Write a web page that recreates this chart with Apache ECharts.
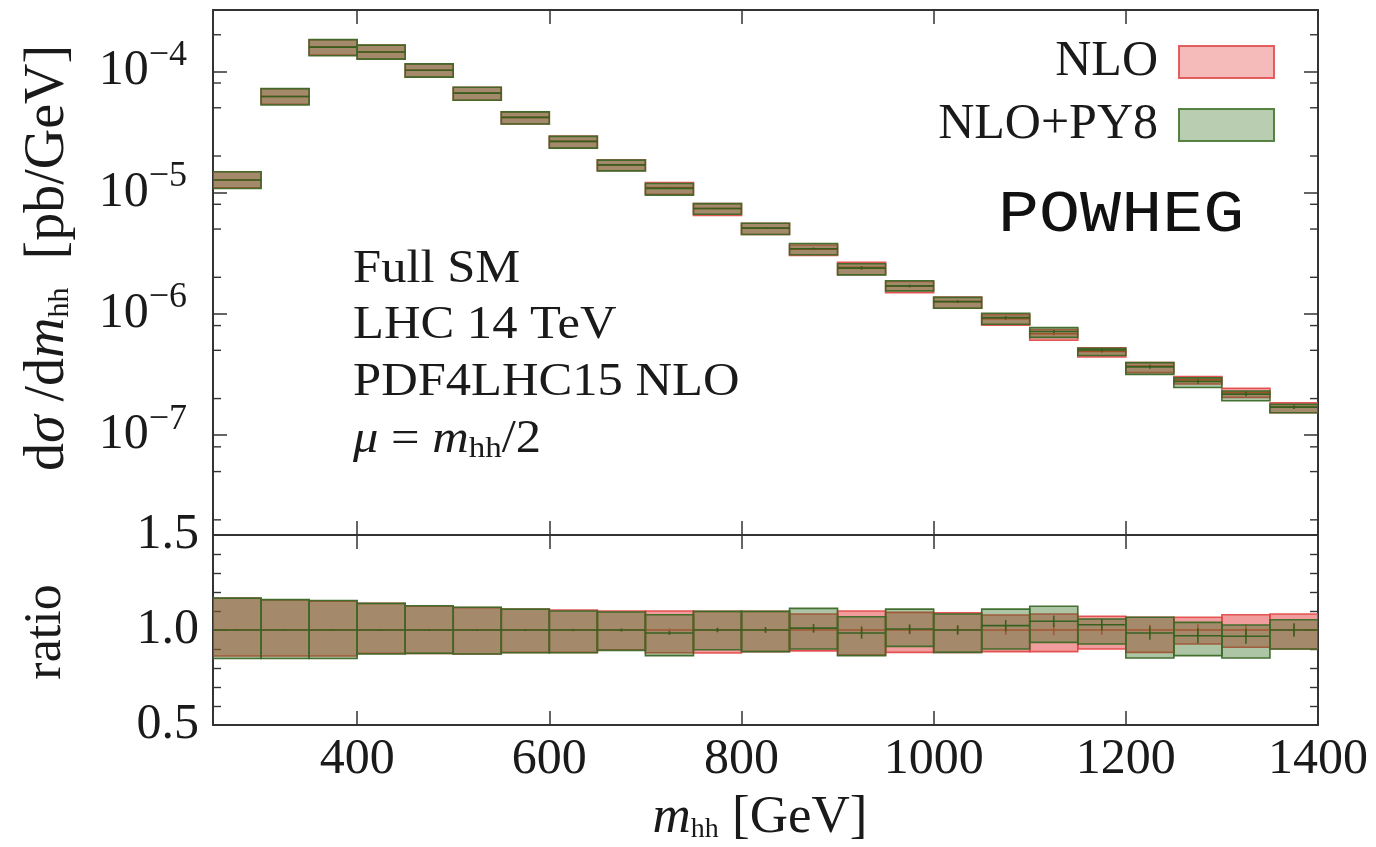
<!DOCTYPE html>
<html>
<head>
<meta charset="utf-8">
<script src="https://cdn.jsdelivr.net/npm/echarts@6/dist/echarts.min.js"></script>
<style>
html,body{margin:0;padding:0;background:#ffffff;}
#chart{width:1376px;height:847px;}
</style>
</head>
<body>
<div id="chart"></div>
<script>
// ---------------- data ----------------
const binEdges = [250,300,350,400,450,500,550,600,650,700,750,800,850,900,950,1000,1050,1100,1150,1200,1250,1300,1350,1400];
// NLO central value, pb/GeV
const nloCentral = [1.27e-5,6.2e-5,1.58e-4,1.44e-4,1.02e-4,6.6e-5,4.17e-5,2.64e-5,1.69e-5,1.10e-5,7.38e-6,5.09e-6,3.41e-6,2.42e-6,1.69e-6,1.26e-6,9.1e-7,6.84e-7,4.9e-7,3.71e-7,2.85e-7,2.25e-7,1.70e-7];
// NLO scale band, relative to NLO central
const nloUpRatio   = [1.168,1.158,1.151,1.140,1.125,1.118,1.110,1.105,1.100,1.100,1.098,1.098,1.084,1.100,1.093,1.090,1.079,1.084,1.072,1.067,1.067,1.080,1.084];
const nloDownRatio = [0.863,0.863,0.863,0.877,0.877,0.874,0.882,0.882,0.896,0.880,0.879,0.886,0.890,0.868,0.882,0.882,0.886,0.886,0.900,0.882,0.926,0.909,0.900];
// NLO+PY8 central and band, relative to NLO central
const py8Ratio     = [1.000,1.000,1.000,1.000,1.000,1.000,1.000,1.000,1.000,0.984,1.000,1.000,1.010,0.984,1.005,1.000,1.023,1.046,1.028,0.984,0.970,0.967,1.000];
const py8UpRatio   = [1.168,1.160,1.155,1.140,1.128,1.120,1.110,1.100,1.095,1.080,1.098,1.098,1.114,1.070,1.110,1.084,1.110,1.125,1.058,1.067,1.040,1.026,1.054];
const py8DownRatio = [0.850,0.850,0.850,0.874,0.877,0.874,0.880,0.880,0.893,0.865,0.896,0.886,0.900,0.865,0.914,0.882,0.900,0.935,0.926,0.853,0.865,0.853,0.900];
// statistical errors, relative
const nloErrRatio  = [0.002,0.002,0.002,0.002,0.003,0.003,0.004,0.005,0.006,0.008,0.010,0.012,0.015,0.022,0.022,0.022,0.025,0.028,0.025,0.028,0.030,0.030,0.030];
const py8ErrRatio  = [0.003,0.003,0.003,0.003,0.004,0.004,0.005,0.006,0.008,0.010,0.012,0.015,0.022,0.030,0.025,0.025,0.030,0.030,0.030,0.035,0.040,0.040,0.035];

const xTickValues = [400,600,800,1000,1200,1400];
const yMainTickValues = [1e-4,1e-5,1e-6,1e-7];
const yMainMinorValues = [2e-4,8e-5,5e-5,2e-5,8e-6,5e-6,2e-6,8e-7,5e-7,2e-7,8e-8,5e-8,2e-8];
const xMin = 250, xMax = 1400;
const yMainMin = 1.5e-8, yMainMax = 3.2e-4;

// ---------------- styles ----------------
const SERIF = '"Liberation Serif", "DejaVu Serif", serif';
const TXT = '#1a1a1a';
const AX = '#333333';
const nloFill = 'rgba(228,60,60,0.5)';
const nloStroke = 'rgba(225,70,70,0.9)';
const py8Fill = 'rgba(50,110,30,0.4)';
const py8Stroke = 'rgba(60,105,40,0.95)';

const mainNLO = nloCentral.map((c,i) => [binEdges[i], binEdges[i+1], c*nloDownRatio[i], c*nloUpRatio[i], c, c*(1-nloErrRatio[i]), c*(1+nloErrRatio[i])]);
const mainPY8 = nloCentral.map((c,i) => [binEdges[i], binEdges[i+1], c*py8DownRatio[i], c*py8UpRatio[i], c*py8Ratio[i], c*(py8Ratio[i]-py8ErrRatio[i]), c*(py8Ratio[i]+py8ErrRatio[i])]);
const ratioNLO = nloCentral.map((c,i) => [binEdges[i], binEdges[i+1], nloDownRatio[i], nloUpRatio[i], 1, 1-nloErrRatio[i], 1+nloErrRatio[i]]);
const ratioPY8 = nloCentral.map((c,i) => [binEdges[i], binEdges[i+1], py8DownRatio[i], py8UpRatio[i], py8Ratio[i], py8Ratio[i]-py8ErrRatio[i], py8Ratio[i]+py8ErrRatio[i]]);

function bandRenderer(fill, stroke, lineColor, errColor) {
  return function (params, api) {
    const x0 = api.value(0), x1 = api.value(1);
    const pTop = api.coord([x0, api.value(3)]);
    const pBot = api.coord([x1, api.value(2)]);
    const c0 = api.coord([x0, api.value(4)]);
    const c1 = api.coord([x1, api.value(4)]);
    const xm = (x0 + x1) / 2;
    const e0 = api.coord([xm, api.value(5)]);
    const e1 = api.coord([xm, api.value(6)]);
    return {
      type: 'group',
      children: [
        { type: 'rect', shape: { x: pTop[0], y: pTop[1], width: pBot[0]-pTop[0], height: pBot[1]-pTop[1] },
          style: { fill: fill, stroke: stroke, lineWidth: 1.6 } },
        { type: 'line', shape: { x1: c0[0], y1: c0[1], x2: c1[0], y2: c1[1] },
          style: { stroke: lineColor, lineWidth: 1.6 } },
        { type: 'line', shape: { x1: e0[0], y1: e0[1], x2: e1[0], y2: e1[1] },
          style: { stroke: errColor, lineWidth: 1.6 } }
      ]
    };
  };
}

function minorTickRenderer(params, api) {
  const v = api.value(1);
  const pl = api.coord([xMin, v]);
  const pr = api.coord([xMax, v]);
  return {
    type: 'group',
    children: [
      { type: 'line', shape: { x1: pl[0], y1: pl[1], x2: pl[0]+8, y2: pl[1] }, style: { stroke: AX, lineWidth: 1.4 } },
      { type: 'line', shape: { x1: pr[0], y1: pr[1], x2: pr[0]-8, y2: pr[1] }, style: { stroke: AX, lineWidth: 1.4 } }
    ]
  };
}

const axisLine = { show: true, onZero: false, lineStyle: { color: AX, width: 2 } };
const majorTick = { show: true, inside: true, length: 14, lineStyle: { color: AX, width: 1.5 } };

function xAxisDef(gridIndex, position, showLabels) {
  return {
    type: 'value', gridIndex: gridIndex, position: position, min: xMin, max: xMax,
    axisLine: axisLine,
    axisTick: Object.assign({}, majorTick, { customValues: xTickValues }),
    axisLabel: showLabels ? {
      show: true, customValues: xTickValues, margin: 10,
      formatter: function (v) { return String(v); },
      fontFamily: SERIF, fontSize: 50, color: TXT
    } : { show: false },
    splitLine: { show: false }
  };
}

function mainYAxis(position, showLabels) {
  return {
    type: 'log', gridIndex: 0, position: position, min: yMainMin, max: yMainMax, logBase: 10,
    axisLine: axisLine,
    axisTick: Object.assign({}, majorTick, { customValues: yMainTickValues }),
    axisLabel: showLabels ? {
      show: true, customValues: yMainTickValues, margin: 26,
      formatter: function (v) {
        const e = Math.round(Math.log10(v));
        return '{b|10}{s|' + (e < 0 ? '\u2212' : '') + Math.abs(e) + '}';
      },
      rich: {
        b: { fontFamily: SERIF, fontSize: 50, color: TXT },
        s: { fontFamily: SERIF, fontSize: 36, color: TXT, padding: [0, 0, 32, 0] }
      }
    } : { show: false },
    splitLine: { show: false },
    minorTick: { show: false }
  };
}

function ratioYAxis(position, showLabels) {
  return {
    type: 'value', gridIndex: 1, position: position, min: 0.5, max: 1.5, interval: 0.5,
    axisLine: axisLine,
    axisTick: majorTick,
    minorTick: { show: true, splitNumber: 5, length: 8, lineStyle: { color: AX, width: 1.4 } },
    axisLabel: showLabels ? {
      show: true, margin: 14, fontFamily: SERIF, fontSize: 50, color: TXT,
      formatter: function (v) { return v.toFixed(1); }
    } : { show: false },
    splitLine: { show: false }
  };
}

const chart = echarts.init(document.getElementById('chart'), null, { renderer: 'canvas' });

const option = {
  backgroundColor: '#ffffff',
  animation: false,
  grid: [
    { left: 213, right: 58, top: 10, height: 525, show: false },
    { left: 213, right: 58, top: 535, height: 190, show: false }
  ],
  xAxis: [
    xAxisDef(0, 'bottom', false),
    xAxisDef(0, 'top', false),
    xAxisDef(1, 'bottom', true),
    xAxisDef(1, 'top', false)
  ],
  yAxis: [
    mainYAxis('left', true),
    mainYAxis('right', false),
    ratioYAxis('left', true),
    ratioYAxis('right', false)
  ],
  legend: [
    {
      data: [{ name: 'NLO', itemStyle: { color: 'rgba(232,90,90,0.42)', borderColor: 'rgba(225,80,80,0.9)', borderWidth: 2 } }],
      right: 96, top: 32, orient: 'vertical', align: 'right', icon: 'rect',
      itemWidth: 95, itemHeight: 32, selectedMode: false,
      textStyle: { fontFamily: SERIF, fontSize: 50, color: TXT, padding: [0, 16, 0, 0] }
    },
    {
      data: [{ name: 'NLO+PY8', itemStyle: { color: 'rgba(60,120,40,0.36)', borderColor: 'rgba(70,120,50,0.9)', borderWidth: 2 } }],
      right: 96, top: 95, orient: 'vertical', align: 'right', icon: 'rect',
      itemWidth: 95, itemHeight: 32, selectedMode: false,
      textStyle: { fontFamily: SERIF, fontSize: 50, color: TXT, padding: [0, 16, 0, 0] }
    }
  ],
  series: [
    { name: 'NLO', type: 'custom', xAxisIndex: 0, yAxisIndex: 0, clip: true,
      itemStyle: { color: nloFill }, renderItem: bandRenderer(nloFill, nloStroke, 'rgba(220,60,40,0.95)', 'rgba(220,60,40,0.95)'),
      encode: { x: [0, 1], y: [2, 3, 4] }, data: mainNLO, z: 2 },
    { name: 'NLO+PY8', type: 'custom', xAxisIndex: 0, yAxisIndex: 0, clip: true,
      itemStyle: { color: py8Fill }, renderItem: bandRenderer(py8Fill, py8Stroke, 'rgba(50,95,30,0.95)', 'rgba(50,95,30,0.95)'),
      encode: { x: [0, 1], y: [2, 3, 4] }, data: mainPY8, z: 3 },
    { name: 'NLO', type: 'custom', xAxisIndex: 2, yAxisIndex: 2, clip: true,
      itemStyle: { color: nloFill }, renderItem: bandRenderer(nloFill, nloStroke, 'rgba(235,70,60,0.95)', 'rgba(235,70,60,0.95)'),
      encode: { x: [0, 1], y: [2, 3, 4] }, data: ratioNLO, z: 2 },
    { name: 'NLO+PY8', type: 'custom', xAxisIndex: 2, yAxisIndex: 2, clip: true,
      itemStyle: { color: py8Fill }, renderItem: bandRenderer(py8Fill, py8Stroke, 'rgba(50,95,30,0.95)', 'rgba(50,95,30,0.95)'),
      encode: { x: [0, 1], y: [2, 3, 4] }, data: ratioPY8, z: 3 },
    { name: 'minorTicks', type: 'custom', xAxisIndex: 0, yAxisIndex: 0, silent: true, clip: false,
      renderItem: minorTickRenderer, encode: { x: 0, y: 1 },
      data: yMainMinorValues.map(v => [xMin, v]), z: 5 }
  ],
  graphic: [
    { type: 'text', x: 48, y: 258, rotation: Math.PI / 2,
      style: {
        text: '{n|d}{i|\u03c3}{n| /d}{i|m}{sub|hh}{n|  [pb/GeV]}',
        textAlign: 'center', textVerticalAlign: 'middle', fill: TXT,
        rich: {
          n: { fontFamily: SERIF, fontSize: 56, fill: TXT },
          i: { fontFamily: SERIF, fontSize: 56, fontStyle: 'italic', fill: TXT },
          sub: { fontFamily: SERIF, fontSize: 30, fill: TXT, padding: [24, 0, 0, 0] }
        }
      } },
    { type: 'text', x: 46, y: 632, rotation: Math.PI / 2,
      style: { text: 'ratio', font: '52px ' + SERIF, fill: TXT, textAlign: 'center', textVerticalAlign: 'middle' } },
    { type: 'text', x: 760, y: 818,
      style: {
        text: '{i|m}{sub|hh}{n| [GeV]}',
        textAlign: 'center', textVerticalAlign: 'middle', fill: TXT,
        rich: {
          n: { fontFamily: SERIF, fontSize: 53, fill: TXT },
          i: { fontFamily: SERIF, fontSize: 53, fontStyle: 'italic', fill: TXT },
          sub: { fontFamily: SERIF, fontSize: 28, fill: TXT, padding: [24, 0, 0, 0] }
        }
      } },
    { type: 'text', x: 353, y: 270, scaleX: 1.1, style: { text: 'Full SM', font: '46px ' + SERIF, fill: TXT, textVerticalAlign: 'middle' } },
    { type: 'text', x: 353, y: 326, scaleX: 1.1, style: { text: 'LHC 14 TeV', font: '46px ' + SERIF, fill: TXT, textVerticalAlign: 'middle' } },
    { type: 'text', x: 353, y: 383, scaleX: 1.1, style: { text: 'PDF4LHC15 NLO', font: '46px ' + SERIF, fill: TXT, textVerticalAlign: 'middle' } },
    { type: 'text', x: 353, y: 440, scaleX: 1.1,
      style: {
        text: '{i|\u03bc}{n| = }{i|m}{sub|hh}{n|/2}',
        textVerticalAlign: 'middle', fill: TXT,
        rich: {
          n: { fontFamily: SERIF, fontSize: 46, fill: TXT },
          i: { fontFamily: SERIF, fontSize: 46, fontStyle: 'italic', fill: TXT },
          sub: { fontFamily: SERIF, fontSize: 30, fill: TXT, padding: [18, 0, 0, 0] }
        }
      } },
    { type: 'text', x: 998, y: 215, scaleX: 1.14,
      style: { text: 'POWHEG', font: '60px "Liberation Mono", "DejaVu Sans Mono", monospace', fill: '#111', textVerticalAlign: 'middle' } }
  ]
};

chart.setOption(option);
</script>
</body>
</html>
